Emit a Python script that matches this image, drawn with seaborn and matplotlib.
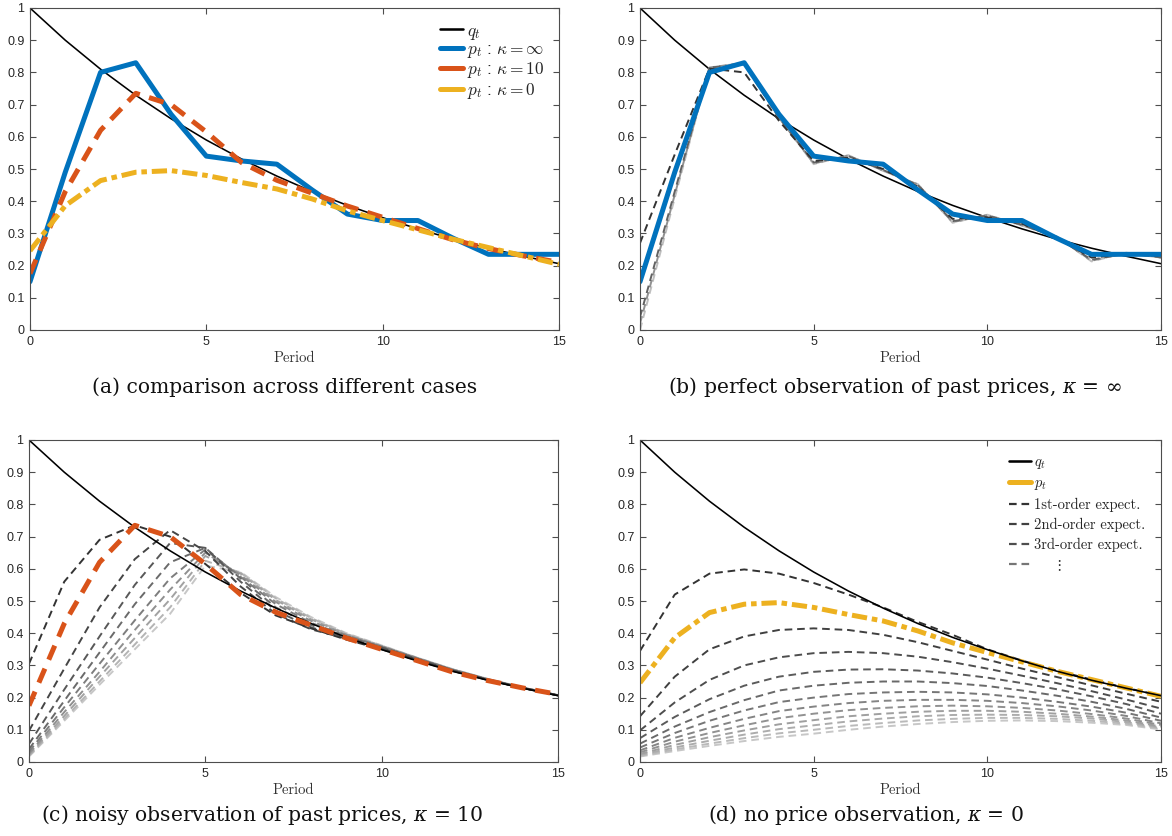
import matplotlib
matplotlib.use("Agg")
import matplotlib.pyplot as plt
import numpy as np
import seaborn as sns
from matplotlib.lines import Line2D

# periods on the horizontal axis
periods = [0, 1, 2, 3, 4, 5, 6, 7, 8, 9, 10, 11, 12, 13, 14, 15]

# fundamental q_t
q_t = [1.0, 0.9, 0.81, 0.729, 0.656, 0.59, 0.531, 0.478, 0.43, 0.387,
       0.349, 0.314, 0.282, 0.254, 0.229, 0.206]

# price p_t under the three observation cases
p_inf = [0.15, 0.49, 0.80, 0.83, 0.67, 0.54, 0.525, 0.515, 0.435, 0.36,
         0.34, 0.34, 0.285, 0.235, 0.235, 0.235]
p_k10 = [0.175, 0.43, 0.62, 0.735, 0.70, 0.615, 0.52, 0.465, 0.425, 0.385,
         0.35, 0.315, 0.28, 0.253, 0.23, 0.21]
p_k0 = [0.246, 0.386, 0.464, 0.49, 0.495, 0.48, 0.458, 0.438, 0.407, 0.37,
        0.34, 0.311, 0.282, 0.256, 0.23, 0.204]

# higher-order expectations, panel (b): kappa = inf
b_expect = [
    [0.27, 0.545, 0.812, 0.80, 0.65, 0.525, 0.535, 0.50, 0.445, 0.345, 0.35, 0.33, 0.285, 0.225, 0.235, 0.23],
    [0.04, 0.43, 0.815, 0.825, 0.66, 0.52, 0.54, 0.497, 0.45, 0.338, 0.355, 0.327, 0.288, 0.218, 0.238, 0.226],
    [0.02, 0.42, 0.815, 0.83, 0.66, 0.517, 0.542, 0.495, 0.452, 0.335, 0.357, 0.325, 0.29, 0.215, 0.24, 0.225],
    [0.0, 0.41, 0.815, 0.83, 0.66, 0.515, 0.543, 0.494, 0.453, 0.333, 0.358, 0.324, 0.29, 0.213, 0.24, 0.224],
]

# higher-order expectations, panel (c): kappa = 10
c_expect = [
    [0.305, 0.56, 0.69, 0.735, 0.70, 0.615, 0.525, 0.455, 0.415, 0.38, 0.35, 0.316, 0.283, 0.255, 0.23, 0.207],
    [0.097, 0.29, 0.48, 0.63, 0.72, 0.655, 0.545, 0.46, 0.412, 0.383, 0.352, 0.318, 0.284, 0.255, 0.23, 0.207],
    [0.056, 0.225, 0.39, 0.55, 0.68, 0.665, 0.56, 0.47, 0.418, 0.386, 0.355, 0.32, 0.285, 0.256, 0.23, 0.207],
    [0.04, 0.19, 0.34, 0.49, 0.62, 0.665, 0.57, 0.48, 0.425, 0.39, 0.357, 0.321, 0.286, 0.256, 0.23, 0.207],
    [0.032, 0.17, 0.305, 0.44, 0.57, 0.66, 0.575, 0.49, 0.432, 0.392, 0.358, 0.322, 0.287, 0.257, 0.231, 0.207],
    [0.026, 0.155, 0.28, 0.41, 0.535, 0.65, 0.58, 0.497, 0.438, 0.394, 0.359, 0.323, 0.287, 0.257, 0.231, 0.207],
    [0.022, 0.143, 0.265, 0.385, 0.505, 0.64, 0.585, 0.503, 0.443, 0.396, 0.36, 0.323, 0.288, 0.258, 0.231, 0.207],
    [0.019, 0.134, 0.25, 0.365, 0.48, 0.625, 0.588, 0.508, 0.447, 0.398, 0.361, 0.324, 0.288, 0.258, 0.231, 0.207],
    [0.017, 0.128, 0.24, 0.35, 0.46, 0.61, 0.59, 0.512, 0.45, 0.40, 0.362, 0.324, 0.289, 0.258, 0.232, 0.208],
]

# higher-order expectations, panel (d): kappa = 0
d_expect = [
    [0.345, 0.52, 0.585, 0.598, 0.585, 0.556, 0.52, 0.48, 0.435, 0.395, 0.35, 0.315, 0.284, 0.256, 0.23, 0.206],
    [0.142, 0.265, 0.35, 0.39, 0.41, 0.415, 0.41, 0.395, 0.372, 0.345, 0.318, 0.29, 0.264, 0.238, 0.212, 0.187],
    [0.098, 0.185, 0.255, 0.30, 0.325, 0.338, 0.342, 0.338, 0.327, 0.31, 0.29, 0.268, 0.245, 0.22, 0.194, 0.166],
    [0.074, 0.14, 0.195, 0.237, 0.265, 0.28, 0.287, 0.288, 0.284, 0.275, 0.262, 0.245, 0.226, 0.204, 0.18, 0.15],
    [0.057, 0.11, 0.155, 0.192, 0.222, 0.237, 0.246, 0.25, 0.25, 0.245, 0.236, 0.222, 0.206, 0.187, 0.165, 0.138],
    [0.045, 0.09, 0.128, 0.16, 0.186, 0.20, 0.211, 0.216, 0.218, 0.216, 0.21, 0.20, 0.187, 0.172, 0.153, 0.128],
    [0.036, 0.075, 0.106, 0.134, 0.158, 0.172, 0.183, 0.19, 0.193, 0.193, 0.19, 0.183, 0.173, 0.16, 0.143, 0.12],
    [0.03, 0.063, 0.09, 0.114, 0.136, 0.15, 0.161, 0.168, 0.173, 0.175, 0.173, 0.168, 0.16, 0.149, 0.135, 0.115],
    [0.025, 0.053, 0.077, 0.098, 0.117, 0.13, 0.142, 0.15, 0.156, 0.159, 0.159, 0.156, 0.15, 0.141, 0.129, 0.11],
    [0.022, 0.045, 0.066, 0.085, 0.102, 0.114, 0.126, 0.135, 0.142, 0.146, 0.147, 0.146, 0.142, 0.135, 0.124, 0.107],
    [0.019, 0.039, 0.057, 0.074, 0.089, 0.10, 0.112, 0.121, 0.129, 0.134, 0.137, 0.137, 0.134, 0.128, 0.119, 0.104],
    [0.017, 0.034, 0.05, 0.065, 0.078, 0.088, 0.10, 0.11, 0.118, 0.124, 0.128, 0.129, 0.127, 0.122, 0.115, 0.101],
]

x_ticks = [0, 5, 10, 15]
y_ticks = [0, 0.1, 0.2, 0.3, 0.4, 0.5, 0.6, 0.7, 0.8, 0.9, 1.0]
y_tick_labels = ["0", "0.1", "0.2", "0.3", "0.4", "0.5", "0.6", "0.7", "0.8", "0.9", "1"]

captions = [
    "(a) comparison across different cases",
    r"(b) perfect observation of past prices, $\kappa$ = $\infty$",
    r"(c) noisy observation of past prices, $\kappa$ = 10",
    r"(d) no price observation, $\kappa$ = 0",
]
legend_a = [r"$q_t$", r"$p_t$ : $\kappa = \infty$", r"$p_t$ : $\kappa = 10$", r"$p_t$ : $\kappa = 0$"]
legend_d = [r"$q_t$", r"$p_t$", "1st-order expect.", "2nd-order expect.",
            "3rd-order expect.", r"$\quad\ \ \vdots$"]

BLUE = "#0072BD"
RED = "#D95319"
YELLOW = "#EDB120"
THICK = 3.6
THIN = 1.15
DASH_THIN = (0, (5.5, 3.5))
DASH_RED = (0, (11, 7))
DASHDOT = (0, (11, 3.5, 4, 3.5))

sns.set_theme(style="ticks")
plt.rcParams.update({
    "font.family": ["Liberation Sans", "DejaVu Sans"],
    "mathtext.fontset": "cm",
    "lines.scale_dashes": False,
    "axes.edgecolor": "#4d4d4d",
    "axes.linewidth": 0.8,
    "xtick.color": "#4d4d4d",
    "ytick.color": "#4d4d4d",
    "xtick.labelcolor": "#262626",
    "ytick.labelcolor": "#262626",
})


def grays(n, start=0.2, stop=0.8):
    return [str(v) for v in np.linspace(start, stop, n)]


def line(ax, y, **kw):
    sns.lineplot(x=periods, y=y, ax=ax, errorbar=None, sort=False, **kw)


def style_axes(ax):
    ax.set_xlim(0, 15)
    ax.set_ylim(0, 1)
    ax.set_xticks(x_ticks)
    ax.set_yticks(y_ticks)
    ax.set_yticklabels(y_tick_labels)
    ax.tick_params(direction="in", top=True, right=True, length=4, width=0.8,
                   labelsize=9, pad=4)
    ax.set_xlabel("Period", fontfamily="cmr10", fontsize=10.5, labelpad=3,
                  color="#333333")
    ax.set_ylabel("")
    for s in ax.spines.values():
        s.set_visible(True)


fig = plt.figure(figsize=(11.72, 8.36), dpi=100)
W, H = 1172, 836


def add_axes(left, top, right, bottom):
    return fig.add_axes([left / W, 1 - bottom / H, (right - left) / W, (bottom - top) / H])


ax_a = add_axes(30, 8, 559, 330)
ax_b = add_axes(640, 8, 1161, 330)
ax_c = add_axes(29, 440, 558, 762)
ax_d = add_axes(640, 440, 1161, 762)

# (a) comparison
line(ax_a, q_t, color="black", lw=THIN)
line(ax_a, p_inf, color=BLUE, lw=THICK)
line(ax_a, p_k10, color=RED, lw=THICK, linestyle=DASH_RED)
line(ax_a, p_k0, color=YELLOW, lw=THICK, linestyle=DASHDOT)
handles_a = [Line2D([], [], color="black", lw=THIN * 1.6),
             Line2D([], [], color=BLUE, lw=THICK),
             Line2D([], [], color=RED, lw=THICK),
             Line2D([], [], color=YELLOW, lw=THICK)]
ax_a.legend(handles_a, legend_a, loc="upper right", frameon=False, fontsize=12.5,
            handlelength=1.35, handletextpad=0.2, labelspacing=0.02,
            borderaxespad=0.3, bbox_to_anchor=(0.995, 0.99))

# (b) kappa = inf
line(ax_b, q_t, color="black", lw=THIN)
for y, c in zip(b_expect[::-1], grays(len(b_expect), 0.2, 0.75)[::-1]):
    line(ax_b, y, color=c, lw=1.4, linestyle=DASH_THIN)
line(ax_b, p_inf, color=BLUE, lw=THICK)

# (c) kappa = 10
for y, c in zip(c_expect[::-1], grays(len(c_expect), 0.2, 0.78)[::-1]):
    line(ax_c, y, color=c, lw=1.4, linestyle=DASH_THIN)
line(ax_c, q_t, color="black", lw=THIN)
line(ax_c, p_k10, color=RED, lw=THICK, linestyle=DASH_RED)

# (d) kappa = 0
d_cols = grays(len(d_expect), 0.2, 0.78)
for y, c in zip(d_expect[::-1], d_cols[::-1]):
    line(ax_d, y, color=c, lw=1.4, linestyle=DASH_THIN)
line(ax_d, p_k0, color=YELLOW, lw=THICK, linestyle=DASHDOT)
line(ax_d, q_t, color="black", lw=THIN)
handles_d = [Line2D([], [], color="black", lw=THIN * 1.6),
             Line2D([], [], color=YELLOW, lw=THICK),
             Line2D([], [], color=d_cols[0], lw=1.6, linestyle=DASH_THIN),
             Line2D([], [], color=d_cols[1], lw=1.6, linestyle=DASH_THIN),
             Line2D([], [], color=d_cols[2], lw=1.6, linestyle=DASH_THIN),
             Line2D([], [], color=d_cols[5], lw=1.6, linestyle=DASH_THIN)]
ax_d.legend(handles_d, legend_d, loc="upper right", frameon=False,
            prop={"family": "cmr10", "size": 10.5},
            handlelength=1.55, handletextpad=0.2, labelspacing=0.4,
            borderaxespad=0.3, bbox_to_anchor=(0.99, 0.985))

for ax in (ax_a, ax_b, ax_c, ax_d):
    style_axes(ax)

cap_pos = [(285, 387), (895, 387), (262, 815), (866, 815)]
for (cx, cy), txt in zip(cap_pos, captions):
    fig.text(cx / W, 1 - cy / H, txt, ha="center", va="center",
             fontfamily="DejaVu Serif", fontsize=14.6, math_fontfamily="dejavuserif",
             color="#111111")

fig.savefig("out.png", dpi=100)
